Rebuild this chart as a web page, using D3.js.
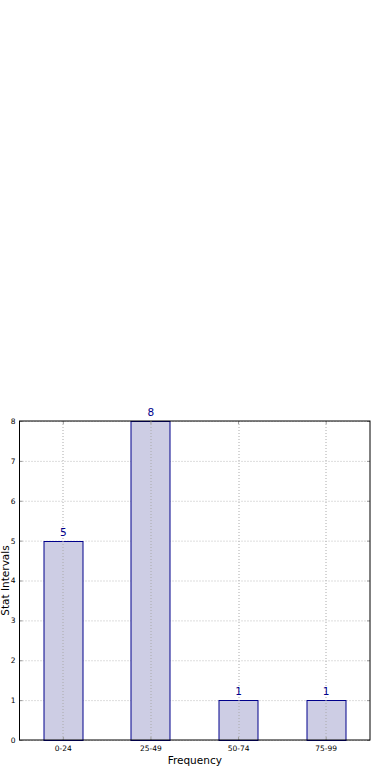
<!DOCTYPE html>
<html>
<head>
<meta charset="utf-8">
<script src="https://cdn.jsdelivr.net/npm/d3@7"></script>
<style>
  body { margin: 0; background: #fff; }
  svg { display: block; font-family: "DejaVu Sans", sans-serif; }
</style>
</head>
<body>
<div id="chart"></div>
<script>
// data
var categories = ["0-24", "25-49", "50-74", "75-99"];
var counts = [5, 8, 1, 1];
var yTicks = [0, 1, 2, 3, 4, 5, 6, 7, 8];

var svgWidth = 390;
var svgHeight = 780;

var margin = { top: 421, right: 20, bottom: 40, left: 19.5 };
var width = 370 - margin.left;
var height = 740 - margin.top;

var svg = d3.select("#chart")
  .append("svg")
  .attr("width", svgWidth)
  .attr("height", svgHeight);

var chartGroup = svg.append("g")
  .attr("transform", `translate(${margin.left}, ${margin.top})`);

// scales
var xScale = d3.scaleBand()
  .domain(categories)
  .range([0, width])
  .paddingInner(0.555)
  .paddingOuter(0.2775);

var yScale = d3.scaleLinear()
  .domain([0, 8])
  .range([height, 0]);

// grid lines
chartGroup.append("g")
  .selectAll("line")
  .data(yTicks)
  .enter()
  .append("line")
  .attr("x1", 0)
  .attr("x2", width)
  .attr("y1", d => yScale(d) + 0.5)
  .attr("y2", d => yScale(d) + 0.5)
  .attr("stroke", "#bbb")
  .attr("stroke-dasharray", "1,2");

// bars
chartGroup.selectAll("rect")
  .data(counts)
  .enter()
  .append("rect")
  .attr("x", (d, i) => Math.floor(xScale(categories[i])) + 0.5)
  .attr("y", d => Math.round(yScale(d)) + 0.5)
  .attr("width", Math.round(xScale.bandwidth()))
  .attr("height", d => Math.round(yScale(0)) - Math.round(yScale(d)))
  .attr("fill", "#cdcde4")
  .attr("stroke", "#00008b")
  .attr("stroke-width", 1);

// vertical grid lines drawn over bars
chartGroup.append("g")
  .selectAll("line")
  .data(categories)
  .enter()
  .append("line")
  .attr("x1", d => Math.floor(xScale(d) + xScale.bandwidth() / 2) + 0.5)
  .attr("x2", d => Math.floor(xScale(d) + xScale.bandwidth() / 2) + 0.5)
  .attr("y1", 0)
  .attr("y2", height)
  .attr("stroke", "#aaa")
  .attr("stroke-dasharray", "1,2");

// value labels
chartGroup.append("g").selectAll("text")
  .data(counts)
  .enter()
  .append("text")
  .attr("x", (d, i) => xScale(categories[i]) + xScale.bandwidth() / 2)
  .attr("y", d => yScale(d) - 5)
  .attr("text-anchor", "middle")
  .attr("font-size", "10.5px")
  .attr("fill", "#00008b")
  .text(d => d);

// axes
var xAxis = d3.axisBottom(xScale).tickSize(-3).tickPadding(6);
var yAxis = d3.axisLeft(yScale).tickValues(yTicks).tickSize(-3).tickPadding(4);

var gx = chartGroup.append("g")
  .attr("transform", `translate(0, ${height})`)
  .call(xAxis);
var gy = chartGroup.append("g")
  .call(yAxis);

[gx, gy].forEach(function(g) {
  g.select(".domain").remove();
  g.selectAll(".tick line").attr("stroke", "#999");
  g.selectAll("text").attr("font-size", "7.5px").attr("fill", "#000")
    .attr("font-family", "DejaVu Sans, sans-serif");
});

// right side ticks
chartGroup.append("g")
  .attr("transform", `translate(${width}, 0)`)
  .call(d3.axisRight(yScale).tickValues(yTicks).tickSize(-3).tickFormat(""))
  .call(g => g.select(".domain").remove())
  .selectAll(".tick line").attr("stroke", "#999");

// top ticks
chartGroup.append("g")
  .call(d3.axisTop(xScale).tickSize(-3).tickFormat(""))
  .call(g => g.select(".domain").remove())
  .selectAll(".tick line").attr("stroke", "#999");

// frame
chartGroup.append("rect")
  .attr("x", 0)
  .attr("y", 0)
  .attr("width", width)
  .attr("height", height)
  .attr("fill", "none")
  .attr("stroke", "#000")
  .attr("stroke-width", 1);

// axis labels
chartGroup.append("text")
  .attr("x", width / 2)
  .attr("y", height + 24)
  .attr("text-anchor", "middle")
  .attr("font-size", "10.5px")
  .attr("fill", "#000")
  .text("Frequency");

chartGroup.append("text")
  .attr("transform", "rotate(-90)")
  .attr("x", -height / 2)
  .attr("y", -11)
  .attr("text-anchor", "middle")
  .attr("font-size", "10.5px")
  .attr("fill", "#000")
  .text("Stat Intervals");
</script>
</body>
</html>
